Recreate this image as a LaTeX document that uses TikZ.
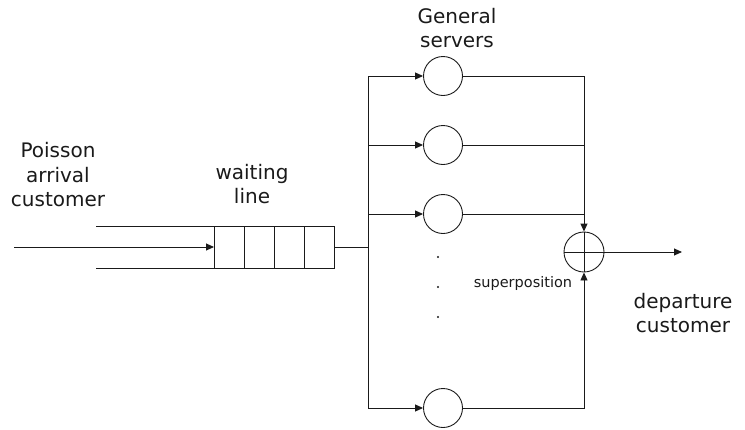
\documentclass[tikz,border=0pt]{standalone}
\usepackage{fontspec}
\setmainfont{DejaVu Sans}
\usepackage{tikz}
\usetikzlibrary{arrows.meta,positioning}
\definecolor{ink}{HTML}{1A1A1A}

\begin{document}
\begin{tikzpicture}[x=1pt,y=-1pt,line width=0.9pt,draw=ink,
    flow/.style={-{Triangle[length=8pt,width=7pt]}},
    cell/.style={draw=ink,minimum width=30pt,minimum height=42pt,inner sep=0pt,outer sep=0pt},
    server/.style={draw=ink,circle,minimum size=39pt,inner sep=0pt},
    label/.style={font=\fontsize{20}{24.5}\selectfont,align=center,text=ink}]
  \useasboundingbox (0,0) rectangle (745,429);

  % waiting line
  \foreach \i in {1,...,4}
    \node[cell] (q\i) at ({214+30*\i-15},247) {};
  \coordinate (railtop) at (96,226);
  \coordinate (railbot) at (96,268);
  \coordinate (arrive) at (14,247);
  \draw (railtop) -- (q1.north west);
  \draw (railbot) -- (q1.south west);
  \draw[flow] (arrive) -- (q1.west);

  % servers
  \node[server] (s1) at (443,76) {};
  \node[server] (s2) at (443,145) {};
  \node[server] (s3) at (443,214) {};
  \node[server] (s4) at (443,408) {};
  \coordinate (bustop) at (368,76);
  \coordinate (busbot) at (368,408);
  \draw (q4.east) -- (q4.east -| bustop);
  \draw (bustop) -- (busbot);
  \draw[flow] (bustop) -- (s1);
  \draw[flow] (s2 -| bustop) -- (s2);
  \draw[flow] (s3 -| bustop) -- (s3);
  \draw[flow] (busbot) -- (s4);
  \foreach \y in {257,287,317}
    \fill[ink] (438,\y) circle (1.2pt);

  % superposition
  \node[server,minimum size=40pt] (sum) at (584,252) {};
  \draw (sum.north) -- (sum.south) (sum.west) -- (sum.east);
  \draw[flow] (s1) -| (sum);
  \draw[flow] (s4) -| (sum);
  \draw (s2) -- (s2 -| sum);
  \draw (s3) -- (s3 -| sum);
  \coordinate (leave) at (682,252);
  \draw[flow] (sum) -- (leave);

  % labels
  \node[label] (arrivaltxt) at (58,175) {Poisson\\arrival\\customer};
  \node[label] (queuetxt) at (252,184) {waiting\\line};
  \node[label] (servertxt) at (457,28) {General\\servers};
  \node[label] (departtxt) at (683,313) {departure\\customer};
  \node[font=\fontsize{14.5}{16}\selectfont,text=ink] (sumtxt) at (523,283) {superposition};
\end{tikzpicture}
\end{document}
